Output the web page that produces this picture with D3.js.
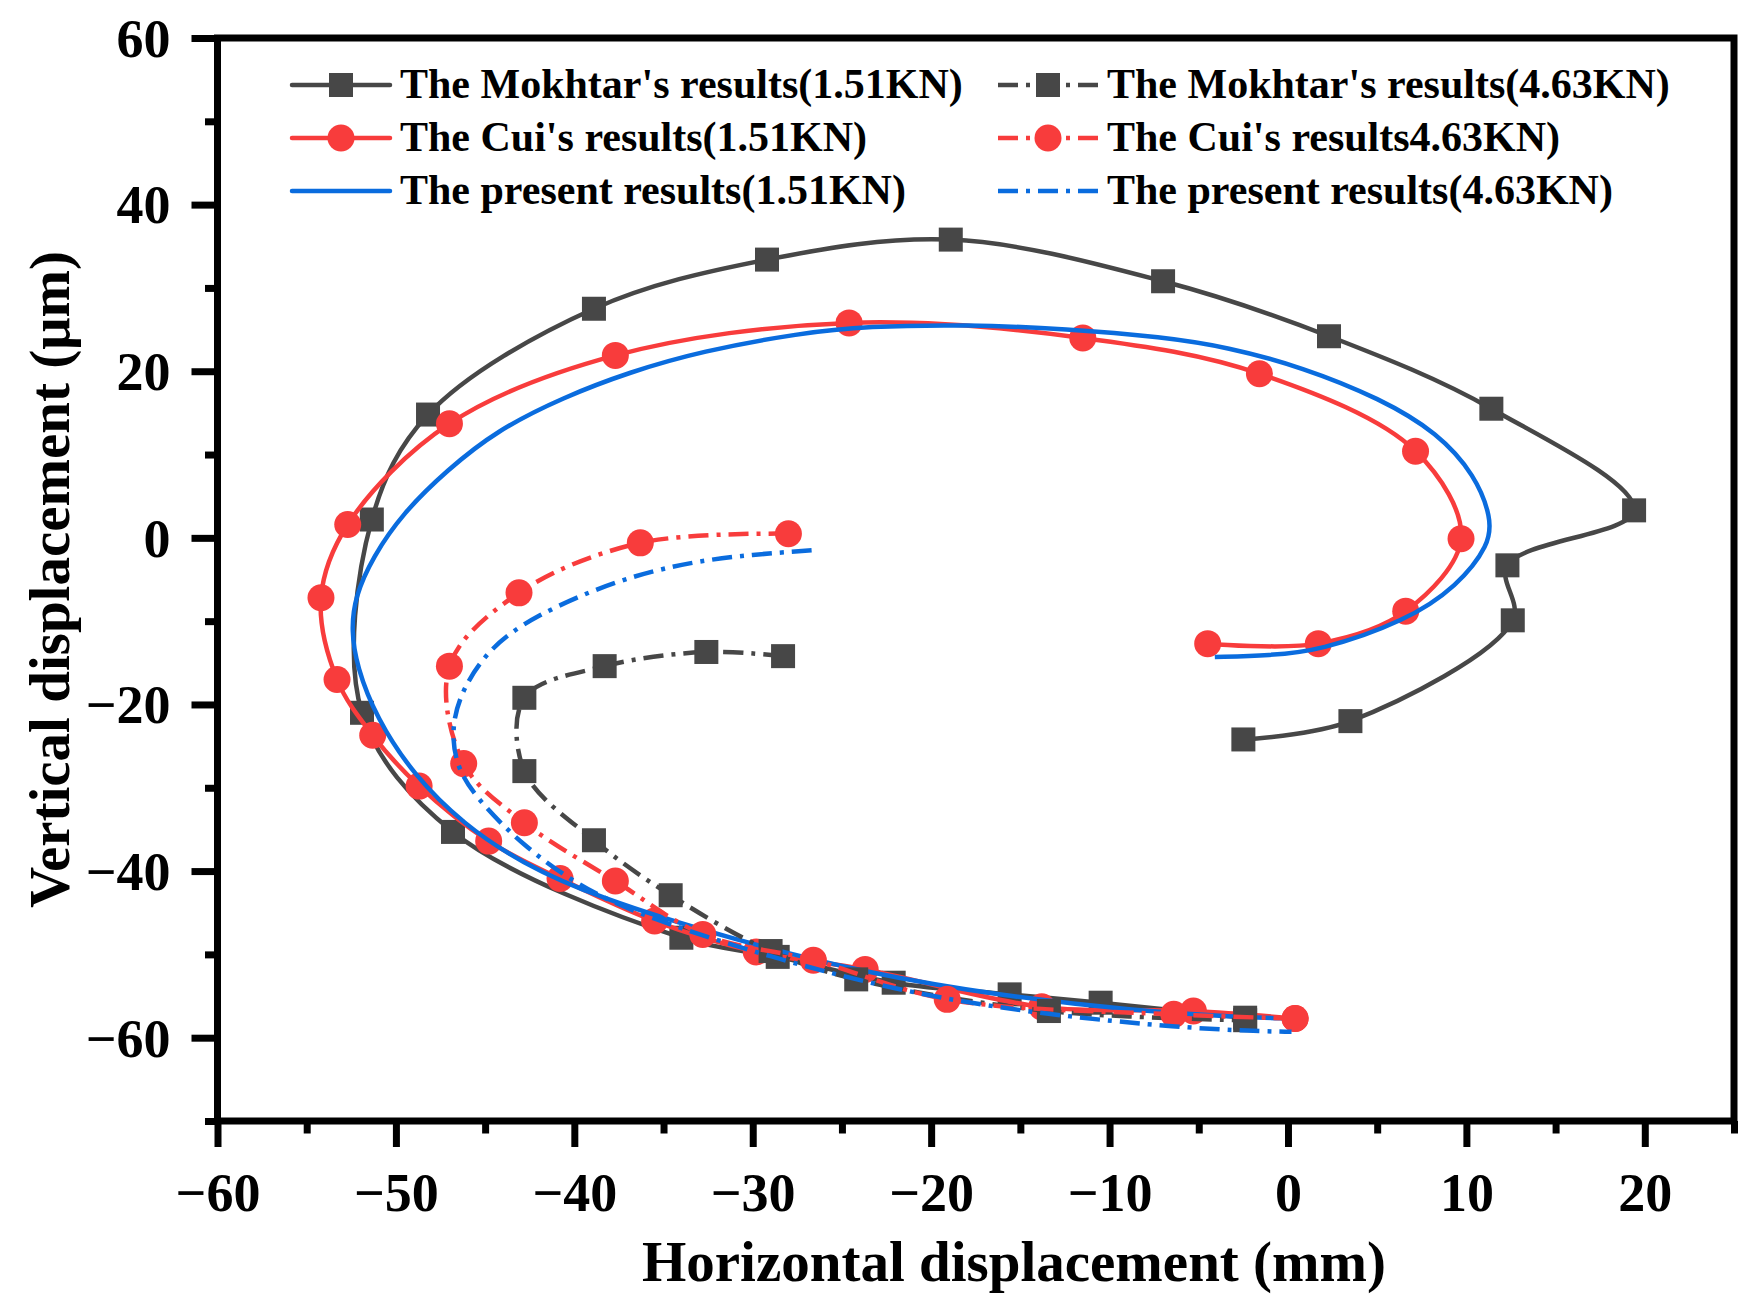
<!DOCTYPE html>
<html><head><meta charset="utf-8">
<script src="https://cdn.jsdelivr.net/npm/d3@7"></script>
<style>
body{margin:0;background:#fff}
svg text{font-family:"Liberation Serif","Times New Roman",Times,serif;font-weight:bold;fill:#000}
</style>
</head><body>
<svg id="chart" width="1763" height="1314"></svg>
<script>
// ---- tick values ----
const xMajorTicks = [-60,-50,-40,-30,-20,-10,0,10,20];
const xMinorTicks = [-55,-45,-35,-25,-15,-5,5,15,25];
const yMajorTicks = [-60,-40,-20,0,20,40,60];
const yMinorTicks = [-70,-50,-30,-10,10,30,50];

// ---- series (horizontal mm, vertical µm) ----
const mokhtar151 = [[-2.5,-24.2],[3.5,-22.0],[12.6,-9.9],[12.3,-3.3],[19.4,3.3],[11.4,15.5],[2.3,24.2],[-7.0,30.8],[-18.9,35.8],[-29.2,33.4],[-38.9,27.5],[-48.2,14.8],[-51.35,2.2],[-51.9,-21.0],[-46.8,-35.3],[-34.0,-48.0],[-28.6,-50.3],[-22.1,-53.4],[-15.6,-54.8],[-10.5,-55.8],[-2.4,-57.6]];
const cui151 = [[-4.5,-12.7],[1.7,-12.7],[6.6,-8.8],[9.7,-0.1],[7.15,10.4],[-1.6,19.7],[-11.5,24.0],[-24.6,25.8],[-37.7,21.9],[-47.0,13.7],[-52.7,1.6],[-54.2,-7.2],[-53.3,-17.0],[-51.3,-23.7],[-48.7,-29.8],[-44.8,-36.4],[-40.8,-40.9],[-35.5,-46.0],[-29.8,-49.7],[-23.7,-51.8],[-13.8,-56.3],[-5.3,-56.8],[0.4,-57.7]];
const present151 = [[-4.1,-14.3],[-1.0,-14.1],[1.7,-13.6],[6.6,-10.0],[9.5,-5.8],[11.3,-0.8],[11.4,2.4],[10.5,7.5],[8.4,12.6],[5.2,16.7],[0.8,20.5],[-3.4,22.9],[-7.0,24.1],[-12.4,25.1],[-18.0,25.6],[-23.6,25.4],[-27.3,24.6],[-32.9,22.4],[-36.9,19.9],[-40.6,16.9],[-44.35,12.9],[-47.15,8.1],[-49.6,3.0],[-51.3,-2.3],[-52.3,-7.1],[-52.5,-11.1],[-52.2,-15.4],[-51.1,-21.6],[-49.0,-28.5],[-46.2,-34.4],[-43.0,-39.0],[-38.7,-43.2],[-31.0,-48.3],[-23.5,-52.3],[-16.0,-55.0],[-8.4,-56.8],[-3.0,-57.5],[0.1,-57.7]];
const mokhtar463 = [[-28.3,-14.2],[-32.6,-13.7],[-38.3,-15.4],[-42.8,-19.2],[-42.8,-28.0],[-38.9,-36.3],[-34.6,-42.9],[-29.0,-49.6],[-24.2,-53.0],[-13.4,-56.8],[-2.4,-57.9]];
const cui463 = [[-28.0,0.5],[-36.3,-0.6],[-43.1,-6.6],[-47.0,-15.4],[-46.2,-27.1],[-42.8,-34.2],[-37.7,-41.2],[-32.8,-47.6],[-26.6,-50.7],[-19.1,-55.4],[-6.4,-57.2],[0.4,-57.7]];
const present463 = [[-26.7,-1.5],[-30.0,-2.0],[-33.3,-2.8],[-37.6,-5.0],[-42.3,-9.4],[-44.9,-13.4],[-46.6,-19.4],[-46.9,-24.3],[-46.4,-28.5],[-45.1,-32.1],[-43.0,-36.7],[-39.8,-41.8],[-36.1,-45.5],[-28.5,-50.7],[-21.0,-54.8],[-13.4,-57.3],[-5.9,-58.8],[-2.0,-59.2],[0.2,-59.3]];

const seriesLabels = ["The Mokhtar's results(1.51KN)","The Cui's results(1.51KN)","The present results(1.51KN)",
                      "The Mokhtar's results(4.63KN)","The Cui's results4.63KN)","The present results(4.63KN)"];

const GRAY = '#474747', RED = '#f83c3c', BLUE = '#0a6cde';
const DASHDOT = '20 8 4 8';

const series = [
  {data:mokhtar151, color:GRAY, marker:'square', dash:null, label:seriesLabels[0], col:0, row:0},
  {data:cui151, color:RED, marker:'circle', dash:null, label:seriesLabels[1], col:0, row:1},
  {data:present151, color:BLUE, marker:null, dash:null, label:seriesLabels[2], col:0, row:2},
  {data:mokhtar463, color:GRAY, marker:'square', dash:DASHDOT, label:seriesLabels[3], col:1, row:0},
  {data:cui463, color:RED, marker:'circle', dash:DASHDOT, label:seriesLabels[4], col:1, row:1},
  {data:present463, color:BLUE, marker:null, dash:DASHDOT, label:seriesLabels[5], col:1, row:2}
];

const svg = d3.select('#chart');
const L = 217.5, R = 1734, T = 38, B = 1121;
const x = d3.scaleLinear().domain([-60,25]).range([L,R]);
const y = d3.scaleLinear().domain([-70,60]).range([B,T]);
const fmt = d => d < 0 ? '\u2212' + Math.abs(d) : String(d);

// axes
const AXW = 7;
function styleAxis(g){
  g.select('.domain').remove();
  g.selectAll('.tick line').attr('stroke','#000').attr('stroke-width',AXW);
}
const gxMaj = svg.append('g').attr('transform',`translate(0,${B})`)
  .call(d3.axisBottom(x).tickValues(xMajorTicks).tickSize(26).tickFormat(fmt));
styleAxis(gxMaj);
gxMaj.selectAll('text').attr('y',90).attr('dy',0).style('font-size','54px');
const gxMin = svg.append('g').attr('transform',`translate(0,${B})`)
  .call(d3.axisBottom(x).tickValues(xMinorTicks).tickSize(12.5).tickFormat(''));
styleAxis(gxMin);

const gyMaj = svg.append('g').attr('transform',`translate(${L},0)`)
  .call(d3.axisLeft(y).tickValues(yMajorTicks).tickSize(26).tickFormat(fmt));
styleAxis(gyMaj);
gyMaj.selectAll('text').attr('x',-47).attr('dy','0.34em').style('font-size','54px');
const gyMin = svg.append('g').attr('transform',`translate(${L},0)`)
  .call(d3.axisLeft(y).tickValues(yMinorTicks).tickSize(12.5).tickFormat(''));
styleAxis(gyMin);

// frame
svg.append('rect').attr('x',L).attr('y',T).attr('width',R-L).attr('height',B-T)
  .attr('fill','none').attr('stroke','#000').attr('stroke-width',AXW);

// axis titles
svg.append('text').attr('x',1014).attr('y',1281).attr('text-anchor','middle')
  .style('font-size','57px').text('Horizontal displacement (mm)');
svg.append('text').attr('transform',`translate(69,${(T+B)/2}) rotate(-90)`).attr('text-anchor','middle')
  .style('font-size','57px').text('Vertical displacement (\u03bcm)');

// series
const lineThrough = d3.line().x(d=>x(d[0])).y(d=>y(d[1])).curve(d3.curveCatmullRom.alpha(0.5));
const lineSmooth = d3.line().x(d=>x(d[0])).y(d=>y(d[1])).curve(d3.curveBasis);
const plot = svg.append('g');
function drawMarker(g, type, cx, cy, color){
  if(type==='square'){
    g.append('rect').attr('x',cx-12).attr('y',cy-12).attr('width',24).attr('height',24).attr('fill',color);
  } else if(type==='circle'){
    g.append('circle').attr('cx',cx).attr('cy',cy).attr('r',13.5).attr('fill',color);
  }
}
series.forEach(s=>{
  const g = plot.append('g');
  g.append('path').datum(s.data).attr('d', s.marker ? lineThrough : lineSmooth).attr('fill','none')
    .attr('stroke',s.color).attr('stroke-width',4.5)
    .attr('stroke-dasharray',s.dash).attr('stroke-linejoin','round');
  if(s.marker){
    s.data.forEach(d=>drawMarker(g, s.marker, x(d[0]), y(d[1]), s.color));
  }
});

// legend
const legCols = [{x1:292,x2:390,tx:400},{x1:998,x2:1098,tx:1107}];
const legRows = [85,138,191];
const leg = svg.append('g');
series.forEach(s=>{
  const c = legCols[s.col], ry = legRows[s.row];
  leg.append('line').attr('x1',c.x1).attr('x2',c.x2).attr('y1',ry).attr('y2',ry)
    .attr('stroke',s.color).attr('stroke-width',4.5).attr('stroke-dasharray',s.dash)
    .attr('stroke-linecap', s.dash ? 'butt' : 'round');
  if(s.marker) drawMarker(leg, s.marker, (c.x1+c.x2)/2, ry, s.color);
  leg.append('text').attr('x',c.tx).attr('y',ry+13).style('font-size','42px').text(s.label);
});
</script>
</body></html>
